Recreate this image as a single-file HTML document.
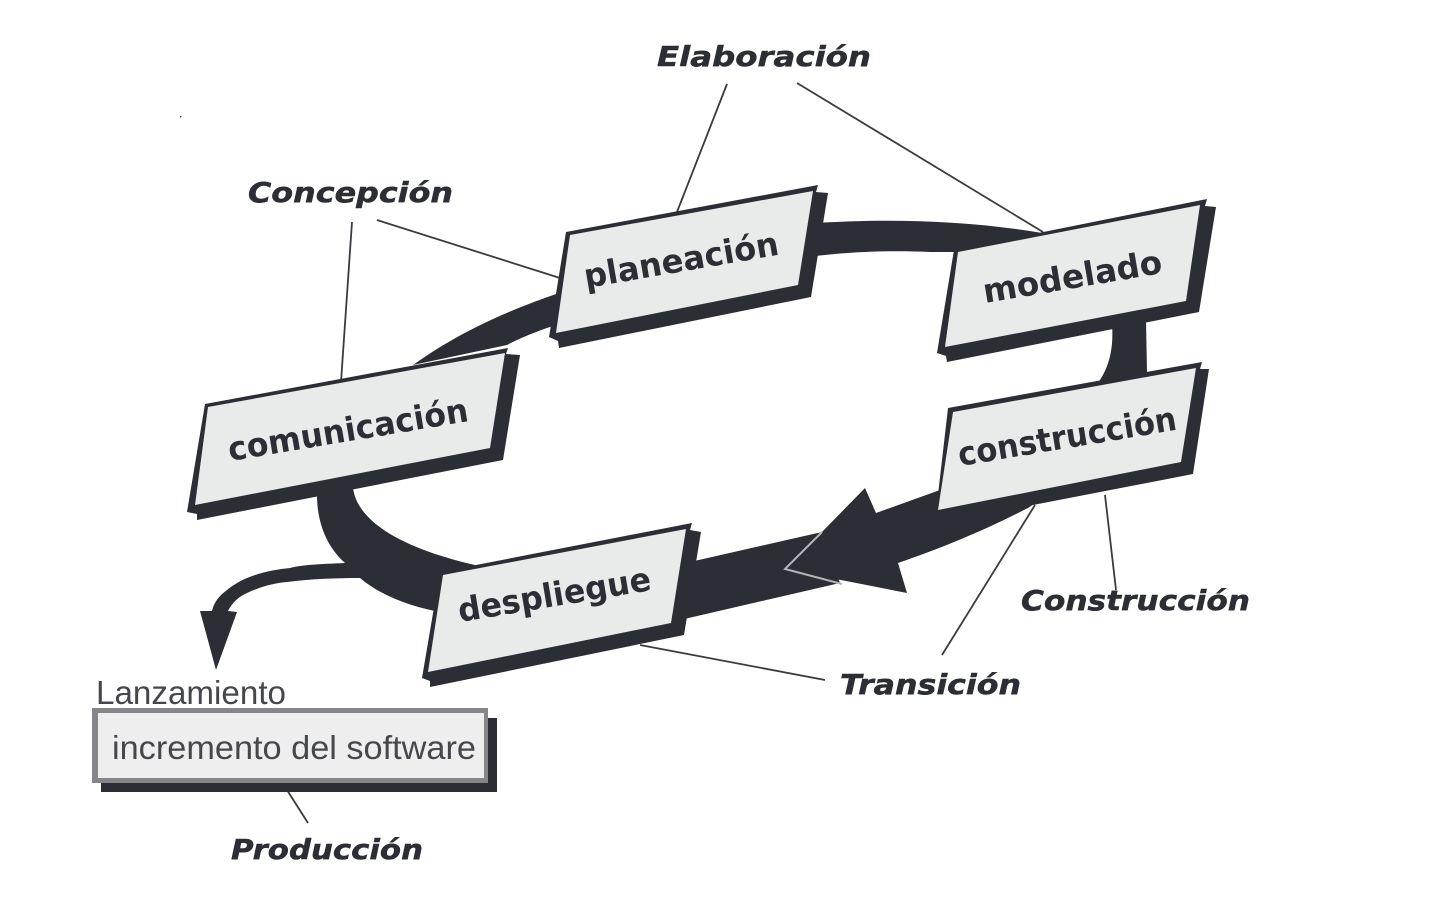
<!DOCTYPE html>
<html>
<head>
<meta charset="utf-8">
<style>
html,body{margin:0;padding:0;background:#fff;width:1440px;height:900px;overflow:hidden}
svg{display:block}
.b{font-family:"DejaVu Sans","Liberation Sans",sans-serif;font-weight:bold;font-size:33px;fill:#2c2e35}
.i{font-family:"DejaVu Sans","Liberation Sans",sans-serif;font-weight:bold;font-style:italic;font-size:28px;fill:#2c2e35;stroke:#2c2e35;stroke-width:.5}
.l{font-family:"Liberation Sans",sans-serif;font-size:33px;fill:#46474c}
</style>
</head>
<body>
<svg width="1440" height="900" viewBox="0 0 1440 900" xmlns="http://www.w3.org/2000/svg">
<rect width="1440" height="900" fill="#fff"/>
<rect x="180" y="116" width="1.5" height="1.5" fill="#555"/>

<!-- leader lines -->
<g stroke="#3a3b40" stroke-width="1.8" fill="none">
<path d="M727 84L677 212"/>
<path d="M797 83L1043 232"/>
<path d="M352 222L341 382"/>
<path d="M377 220L560 278"/>
<path d="M1105 495L1116 590"/>
<path d="M1035 505L942 655"/>
<path d="M640 645L825 680"/>
<path d="M287 790L308 823"/>
</g>

<!-- ring bands -->
<g fill="#2c2e35">
<path d="M815 223C880 219 960 219 1042 233L1040 252L930 252C890 250 850 252 815 256Z"/>
<path d="M562 292C500 313 455 335 413 365L507 345C520 338 540 330 556 325Z"/>
<path d="M1112 325L1146 320L1147 372L1097 384C1108 370 1114 350 1112 325Z"/>
<path d="M317 495C317 520 325 545 345 563C320 564 300 565 290 568C270 570 245 575 227 590C219 596 214 602 212 611L200 611L216 670L237 612L228 611C232 603 238 597 247 593C262 586 275 583 287 582C310 579 335 578 360 578C380 595 410 607 445 613L475 565C410 550 358 525 353 488Z"/>
<path d="M690 562L822 532L840 583L680 620Z"/>
<path d="M865 488L876 513L940 490L1040 500L1028 508C985 530 945 547 898 563L907 593L785 569L822 532Z"/>
</g>
<path d="M822 532L785 569L842 584" fill="none" stroke="#b4b5b7" stroke-width="2"/>

<!-- planeacion -->
<path d="M566 232L818 185L816 192L828 193L811 297L559 348L558 341L549 337Z" fill="#2c2e35"/>
<path d="M570 235L813 191L798 285L556 333Z" fill="#e9eaea"/>
<!-- modelado -->
<path d="M954 250L1207 199L1205 206L1216 207L1199 312L947 362L946 356L937 353Z" fill="#2c2e35"/>
<path d="M958 252L1200 205L1186 301L945 347Z" fill="#e9eaea"/>
<!-- construccion -->
<path d="M948 408L1202 362L1200 369L1209 369L1193 474L1033 505L938 516L936 512Z" fill="#2c2e35"/>
<path d="M953 412L1196 368L1181 462L938 510Z" fill="#e9eaea"/>
<!-- comunicacion -->
<path d="M205 404L508 348L506 354L520 355L503 460L197 520L197 514L187 512Z" fill="#2c2e35"/>
<path d="M208 407L505 353L490 448L195 505Z" fill="#e9eaea"/>
<!-- despliegue -->
<path d="M440 572L692 523L690 530L701 532L684 635L430 687L430 681L422 678Z" fill="#2c2e35"/>
<path d="M443 575L686 529L671 623L428 672Z" fill="#e9eaea"/>

<!-- box labels -->
<text class="b" transform="translate(586,288) rotate(-9.8)" textLength="197" lengthAdjust="spacingAndGlyphs">planeación</text>
<text class="b" transform="translate(985,303) rotate(-9.6)" textLength="181" lengthAdjust="spacingAndGlyphs">modelado</text>
<text class="b" transform="translate(960,466) rotate(-9.5)" textLength="221" lengthAdjust="spacingAndGlyphs">construcción</text>
<text class="b" transform="translate(230,461) rotate(-9.5)" textLength="243" lengthAdjust="spacingAndGlyphs">comunicación</text>
<text class="b" transform="translate(460,622) rotate(-9.5)" textLength="195" lengthAdjust="spacingAndGlyphs">despliegue</text>

<!-- phase labels -->
<text class="i" x="657" y="66" textLength="214" lengthAdjust="spacingAndGlyphs">Elaboración</text>
<text class="i" x="248" y="202" textLength="205" lengthAdjust="spacingAndGlyphs">Concepción</text>
<text class="i" x="1021" y="610" textLength="229" lengthAdjust="spacingAndGlyphs">Construcción</text>
<text class="i" x="840" y="694" textLength="181" lengthAdjust="spacingAndGlyphs">Transición</text>
<text class="i" x="231" y="859" textLength="192" lengthAdjust="spacingAndGlyphs">Producción</text>

<!-- release -->
<text class="l" x="96" y="704" textLength="190" lengthAdjust="spacingAndGlyphs">Lanzamiento</text>
<rect x="101" y="718" width="396" height="74" fill="#2c2e35"/>
<rect x="92" y="708" width="396" height="75" fill="#85858a"/>
<rect x="98" y="713" width="386" height="65" fill="#eeeeee"/>
<text class="l" x="112" y="759" textLength="364" lengthAdjust="spacingAndGlyphs">incremento del software</text>
</svg>
</body>
</html>
